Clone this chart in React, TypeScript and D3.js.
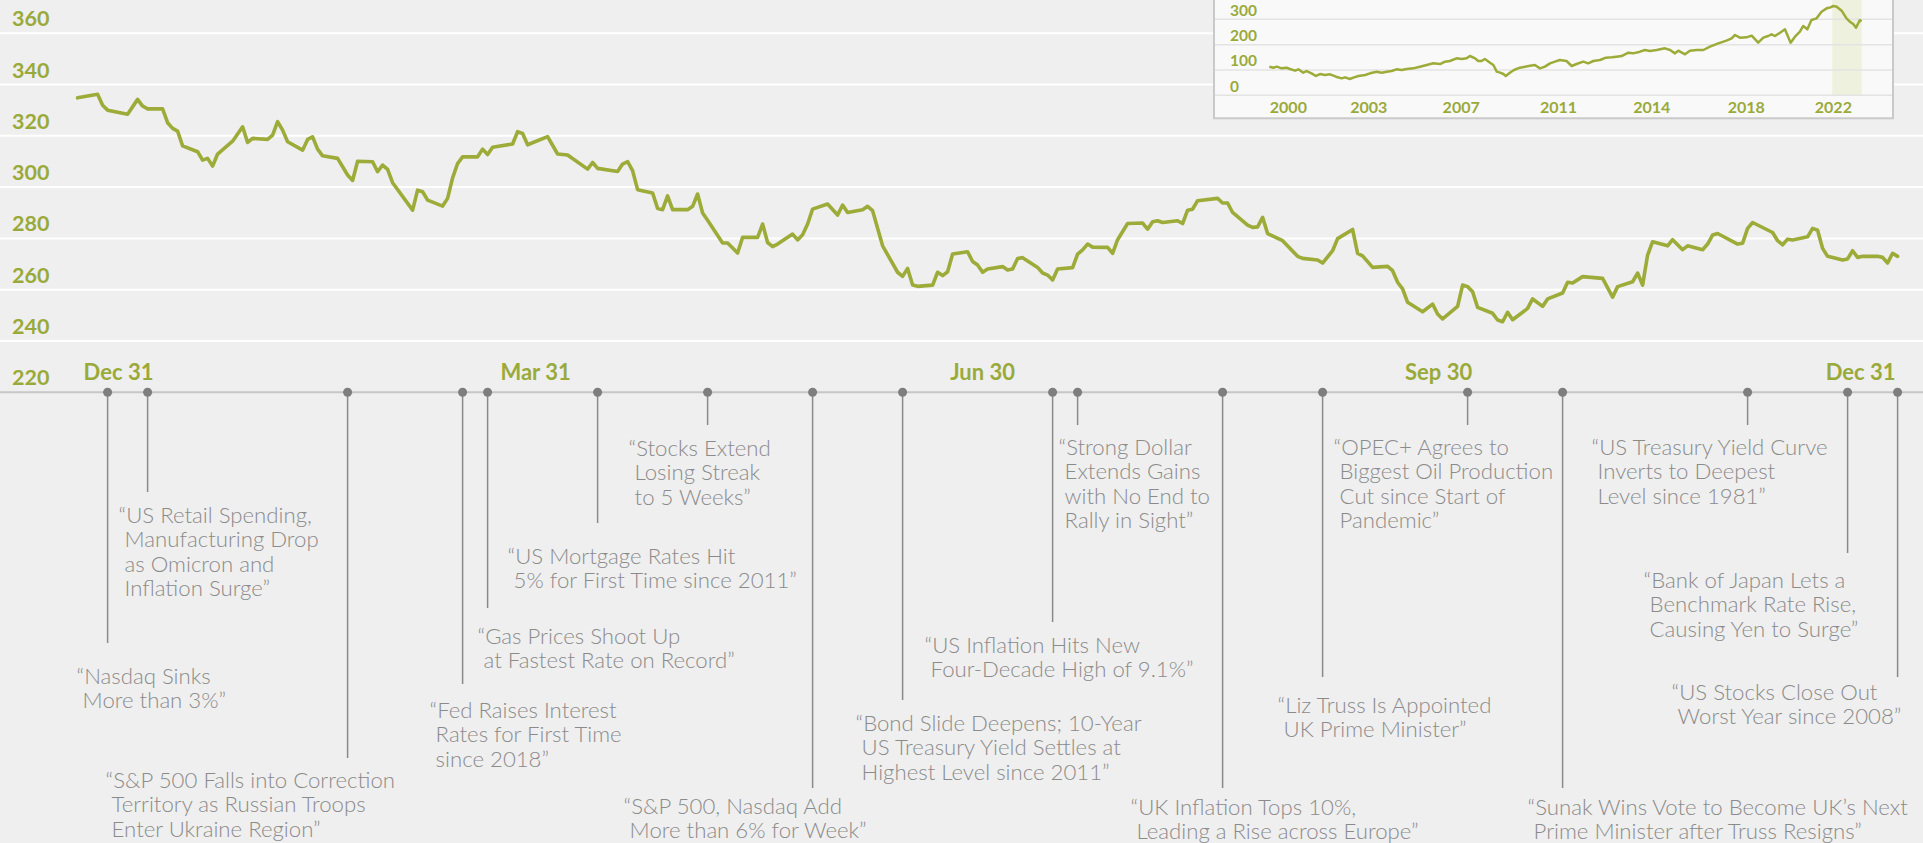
import * as d3 from 'd3';
import { useEffect, useRef } from 'react';

// daily index level, 2022 (turning points)
const dates = [
  '2021-12-31', '2022-01-04', '2022-01-05', '2022-01-06', '2022-01-10', '2022-01-12', '2022-01-13', '2022-01-14',
  '2022-01-17', '2022-01-18', '2022-01-19', '2022-01-20', '2022-01-21', '2022-01-24', '2022-01-25', '2022-01-26',
  '2022-01-27', '2022-01-28', '2022-01-31', '2022-02-02', '2022-02-03', '2022-02-04', '2022-02-07', '2022-02-08',
  '2022-02-09', '2022-02-10', '2022-02-11', '2022-02-14', '2022-02-15', '2022-02-16', '2022-02-17', '2022-02-18',
  '2022-02-21', '2022-02-23', '2022-02-24', '2022-02-25', '2022-02-28', '2022-03-01', '2022-03-02', '2022-03-03',
  '2022-03-04', '2022-03-08', '2022-03-09', '2022-03-10', '2022-03-11', '2022-03-14', '2022-03-15', '2022-03-16',
  '2022-03-17', '2022-03-18', '2022-03-21', '2022-03-22', '2022-03-23', '2022-03-24', '2022-03-28', '2022-03-29',
  '2022-03-30', '2022-03-31', '2022-04-04', '2022-04-06', '2022-04-08', '2022-04-12', '2022-04-13', '2022-04-14',
  '2022-04-18', '2022-04-19', '2022-04-20', '2022-04-21', '2022-04-22', '2022-04-25', '2022-04-26', '2022-04-27',
  '2022-04-28', '2022-04-29', '2022-05-02', '2022-05-03', '2022-05-04', '2022-05-05', '2022-05-06', '2022-05-09',
  '2022-05-10', '2022-05-12', '2022-05-13', '2022-05-16', '2022-05-17', '2022-05-18', '2022-05-19', '2022-05-20',
  '2022-05-23', '2022-05-24', '2022-05-25', '2022-05-26', '2022-05-27', '2022-05-30', '2022-06-01', '2022-06-02',
  '2022-06-03', '2022-06-06', '2022-06-07', '2022-06-08', '2022-06-10', '2022-06-13', '2022-06-14', '2022-06-15',
  '2022-06-16', '2022-06-17', '2022-06-20', '2022-06-21', '2022-06-22', '2022-06-23', '2022-06-24', '2022-06-27',
  '2022-06-28', '2022-06-29', '2022-06-30', '2022-07-01', '2022-07-04', '2022-07-05', '2022-07-06', '2022-07-07',
  '2022-07-08', '2022-07-11', '2022-07-12', '2022-07-13', '2022-07-14', '2022-07-15', '2022-07-18', '2022-07-19',
  '2022-07-20', '2022-07-21', '2022-07-22', '2022-07-25', '2022-07-26', '2022-07-27', '2022-07-29', '2022-08-01',
  '2022-08-02', '2022-08-03', '2022-08-04', '2022-08-05', '2022-08-08', '2022-08-09', '2022-08-10', '2022-08-11',
  '2022-08-12', '2022-08-16', '2022-08-17', '2022-08-18', '2022-08-19', '2022-08-22', '2022-08-23', '2022-08-24',
  '2022-08-25', '2022-08-26', '2022-08-29', '2022-09-01', '2022-09-02', '2022-09-05', '2022-09-06', '2022-09-08',
  '2022-09-09', '2022-09-12', '2022-09-13', '2022-09-14', '2022-09-16', '2022-09-19', '2022-09-20', '2022-09-21',
  '2022-09-22', '2022-09-23', '2022-09-26', '2022-09-28', '2022-09-29', '2022-09-30', '2022-10-03', '2022-10-04',
  '2022-10-05', '2022-10-06', '2022-10-07', '2022-10-10', '2022-10-11', '2022-10-12', '2022-10-13', '2022-10-14',
  '2022-10-17', '2022-10-18', '2022-10-20', '2022-10-21', '2022-10-24', '2022-10-25', '2022-10-26', '2022-10-28',
  '2022-11-01', '2022-11-03', '2022-11-04', '2022-11-07', '2022-11-08', '2022-11-09', '2022-11-10', '2022-11-11',
  '2022-11-14', '2022-11-15', '2022-11-17', '2022-11-18', '2022-11-21', '2022-11-22', '2022-11-23', '2022-11-24',
  '2022-11-28', '2022-11-29', '2022-11-30', '2022-12-01', '2022-12-05', '2022-12-06', '2022-12-07', '2022-12-08',
  '2022-12-09', '2022-12-12', '2022-12-13', '2022-12-14', '2022-12-15', '2022-12-16', '2022-12-19', '2022-12-20',
  '2022-12-21', '2022-12-22', '2022-12-23', '2022-12-26', '2022-12-27', '2022-12-28', '2022-12-29', '2022-12-30',
];
const values = [
  334.8, 336.2, 331.9, 330.0, 328.4, 334.2, 331.6, 330.5,
  330.5, 325.1, 322.9, 321.8, 316.1, 313.8, 310.5, 311.2,
  308.2, 312.9, 317.9, 323.5, 317.4, 319.0, 318.6, 320.3,
  325.5, 322.2, 317.7, 314.4, 318.6, 319.6, 314.8, 312.2,
  311.2, 304.7, 302.6, 310.1, 309.9, 306.0, 308.6, 306.9,
  301.7, 291.0, 298.8, 298.2, 294.9, 292.6, 295.6, 303.6,
  309.2, 311.8, 311.8, 314.8, 312.7, 315.5, 316.8, 321.6,
  320.9, 316.5, 319.7, 312.9, 312.5, 307.0, 309.6, 307.3,
  306.1, 309.0, 309.9, 306.4, 299.0, 297.7, 291.7, 291.2,
  296.6, 291.2, 291.2, 292.5, 297.3, 289.9, 287.1, 278.2,
  278.2, 274.3, 280.4, 280.4, 285.6, 278.4, 276.8, 277.8,
  281.7, 279.4, 281.4, 285.6, 291.4, 293.4, 289.1, 293.0,
  290.1, 291.2, 292.5, 290.8, 277.1, 266.8, 265.2, 268.3,
  261.8, 261.3, 261.8, 266.8, 265.5, 267.0, 273.9, 274.8,
  271.0, 269.6, 266.8, 268.1, 269.0, 267.7, 268.1, 272.2,
  272.5, 268.7, 266.5, 265.7, 263.8, 268.1, 268.6, 273.9,
  275.5, 277.8, 276.6, 276.5, 274.2, 279.5, 285.8, 286.0,
  283.6, 286.5, 286.9, 286.2, 286.9, 285.8, 291.0, 291.4,
  294.7, 295.6, 293.8, 293.8, 290.1, 285.2, 284.3, 284.5,
  288.2, 281.9, 279.1, 273.0, 272.2, 271.6, 270.4, 275.2,
  279.9, 283.5, 274.2, 273.2, 268.7, 269.1, 267.4, 262.9,
  260.3, 255.1, 251.4, 254.4, 250.5, 248.6, 253.5, 261.8,
  261.2, 259.2, 253.1, 250.8, 248.2, 247.5, 251.2, 248.3,
  252.7, 256.4, 253.5, 256.4, 258.7, 262.9, 262.6, 265.1,
  264.4, 257.1, 261.2, 263.1, 266.5, 261.8, 273.5, 278.7,
  277.1, 279.5, 275.6, 277.1, 275.6, 277.8, 281.3, 281.9,
  277.8, 278.1, 283.9, 286.2, 282.3, 279.1, 277.5, 279.7,
  279.4, 280.6, 283.9, 283.2, 276.1, 273.0, 271.6, 272.0,
  275.2, 272.6, 273.0, 273.0, 272.6, 270.4, 274.2, 273.0,
];

const yTicks = [220, 240, 260, 280, 300, 320, 340, 360];
const quarterDates = ['2021-12-31', '2022-03-31', '2022-06-30', '2022-09-30', '2022-12-30'];
const quarterLabels = ['Dec 31', 'Mar 31', 'Jun 30', 'Sep 30', 'Dec 31'];

// headlines along the timeline
const eventDates = [
  '2022-01-06', '2022-01-14', '2022-02-23', '2022-03-18', '2022-03-23', '2022-04-14',
  '2022-05-06', '2022-05-27', '2022-06-14', '2022-07-14', '2022-07-19', '2022-08-17',
  '2022-09-06', '2022-10-05', '2022-10-24', '2022-11-30', '2022-12-20', '2022-12-30',
];
const eventTexts = [
  ['“Nasdaq Sinks', 'More than 3%”'],
  ['“US Retail Spending,', 'Manufacturing Drop', 'as Omicron and', 'Inflation Surge”'],
  ['“S&P 500 Falls into Correction', 'Territory as Russian Troops', 'Enter Ukraine Region”'],
  ['“Fed Raises Interest', 'Rates for First Time', 'since 2018”'],
  ['“Gas Prices Shoot Up', 'at Fastest Rate on Record”'],
  ['“US Mortgage Rates Hit', '5% for First Time since 2011”'],
  ['“Stocks Extend', 'Losing Streak', 'to 5 Weeks”'],
  ['“S&P 500, Nasdaq Add', 'More than 6% for Week”'],
  ['“Bond Slide Deepens; 10-Year', 'US Treasury Yield Settles at', 'Highest Level since 2011”'],
  ['“US Inflation Hits New', 'Four-Decade High of 9.1%”'],
  ['“Strong Dollar', 'Extends Gains', 'with No End to', 'Rally in Sight”'],
  ['“UK Inflation Tops 10%,', 'Leading a Rise across Europe”'],
  ['“Liz Truss Is Appointed', 'UK Prime Minister”'],
  ['“OPEC+ Agrees to', 'Biggest Oil Production', 'Cut since Start of', 'Pandemic”'],
  ['“Sunak Wins Vote to Become UK’s Next', 'Prime Minister after Truss Resigns”'],
  ['“US Treasury Yield Curve', 'Inverts to Deepest', 'Level since 1981”'],
  ['“Bank of Japan Lets a', 'Benchmark Rate Rise,', 'Causing Yen to Surge”'],
  ['“US Stocks Close Out', 'Worst Year since 2008”'],
];

// long-run history for the inset (decimal years)
const insetYears = [
  2000.00, 2000.16, 2000.29, 2000.48, 2000.67, 2000.80, 2001.00, 2001.13, 2001.32, 2001.45,
  2001.64, 2001.81, 2001.97, 2002.16, 2002.36, 2002.59, 2002.81, 2002.94, 2003.13, 2003.26,
  2003.46, 2003.72, 2003.91, 2004.17, 2004.36, 2004.56, 2004.75, 2004.94, 2005.14, 2005.33,
  2005.59, 2005.85, 2006.11, 2006.37, 2006.63, 2006.82, 2007.01, 2007.27, 2007.47, 2007.66,
  2007.79, 2007.99, 2008.11, 2008.24, 2008.37, 2008.57, 2008.70, 2008.83, 2008.96, 2009.09,
  2009.18, 2009.34, 2009.50, 2009.73, 2009.93, 2010.12, 2010.31, 2010.51, 2010.70, 2010.90,
  2011.09, 2011.28, 2011.54, 2011.74, 2011.93, 2012.19, 2012.38, 2012.58, 2012.84, 2013.07,
  2013.29, 2013.48, 2013.68, 2013.94, 2014.13, 2014.39, 2014.58, 2014.78, 2015.04, 2015.36,
  2015.56, 2015.75, 2015.88, 2016.14, 2016.33, 2016.59, 2016.85, 2017.11, 2017.43, 2017.75,
  2017.95, 2018.08, 2018.27, 2018.53, 2018.73, 2018.98, 2019.18, 2019.37, 2019.50, 2019.63,
  2019.83, 2020.02, 2020.24, 2020.41, 2020.60, 2020.73, 2020.89, 2021.05, 2021.25, 2021.44,
  2021.64, 2021.79, 2021.90, 2022.03, 2022.22, 2022.41, 2022.54, 2022.67, 2022.78, 2022.93,
  2022.99,
];
const insetValues = [
  113, 109, 113, 106.4, 109, 103.8, 97.2, 102.5, 89.3, 95.9,
  86.7, 76.2, 84, 80.1, 82.7, 73.5, 66.9, 70.9, 64.3, 69.6,
  76.2, 80.1, 86.7, 93.3, 89.3, 93.3, 95.9, 102.5, 99.8, 103.8,
  106.4, 113, 119.6, 126.2, 123.5, 132.7, 135.4, 145.9, 143.3, 145.9,
  155.1, 145.9, 135.4, 135.4, 143.3, 128.8, 119.6, 93.3, 89.3, 84,
  76.2, 89.3, 99.8, 109, 113, 116.9, 119.6, 106.4, 113, 126.2,
  132.7, 139.3, 135.4, 115.6, 123.5, 132.7, 126.2, 135.4, 139.3, 148.5,
  149.9, 152.5, 155.1, 168.3, 165.6, 172.2, 178.8, 174.9, 178.8, 185.4,
  178.8, 165.6, 176.2, 161.7, 176.2, 178.8, 178.8, 192, 205.1, 215.7,
  224.9, 238, 227.5, 228.8, 235.4, 207.8, 227.5, 234.1, 240.7, 234.1,
  247.2, 260.4, 207.8, 231.4, 251.2, 273.6, 260.4, 297.2, 303.8, 330.1,
  343.3, 347.2, 352.5, 349.9, 334.1, 303.8, 290.7, 281.4, 267, 297.2,
  290.7,
];
const insetYTicks = [0, 100, 200, 300];
const insetYearTicks = [2000.74, 2003.86, 2007.45, 2011.23, 2014.85, 2018.52, 2021.9];
const insetYearLabels = ['2000', '2003', '2007', '2011', '2014', '2018', '2022'];
const insetHighlight = [2021.86, 2023];

// callout layout: stem end, text offset from the dot, first baseline
const callouts = [
  { stem: 643, dx: -25, top: 684 },
  { stem: 492, dx: -23, top: 523 },
  { stem: 758, dx: -236, top: 788 },
  { stem: 684, dx: -27, top: 718 },
  { stem: 608, dx: -4, top: 644 },
  { stem: 523, dx: -84, top: 564 },
  { stem: 425, dx: -73, top: 456 },
  { stem: 788, dx: -183, top: 814 },
  { stem: 700, dx: -41, top: 731 },
  { stem: 622, dx: -122, top: 653 },
  { stem: 425, dx: -13, top: 455 },
  { stem: 788, dx: -86, top: 815 },
  { stem: 677, dx: -39, top: 713 },
  { stem: 425, dx: -128, top: 455 },
  { stem: 788, dx: -29, top: 815 },
  { stem: 425, dx: -150, top: 455 },
  { stem: 553, dx: -198, top: 588 },
  { stem: 677, dx: -220, top: 700 },
];
const quarterShift = [6, 8, 0, -4, -2];

const OLIVE = '#9aaa3a';
const GREY_TEXT = '#8b8b8b';

const drawChart = (container: HTMLElement) => {
  const width = 1923;
  const height = 843;
  const axisY = 392.3;
  const parse = d3.timeParse('%Y-%m-%d');
  const X = dates.map(d => parse(d) as Date);

  const x = d3.scaleTime().domain([X[0], X[X.length - 1]]).range([77.6, 1897.6]);
  const y = d3.scaleLinear().domain([220, 360]).range([axisY, 33.2]);

  const svg = d3.select(container).append('svg')
    .attr('width', width)
    .attr('height', height)
    .attr('viewBox', `0 0 ${width} ${height}`)
    .style('position', 'absolute')
    .style('left', '0px')
    .style('top', '0px');

  svg.append('rect').attr('width', width).attr('height', height).attr('fill', '#efefef');

  // gridlines
  svg.append('g').selectAll('line')
    .data(yTicks.filter(t => t > 220))
    .join('line')
    .attr('x1', 0).attr('x2', width)
    .attr('y1', d => y(d)).attr('y2', d => y(d))
    .attr('stroke', '#ffffff').attr('stroke-width', 2);

  svg.append('g').selectAll('text')
    .data(yTicks)
    .join('text')
    .attr('x', 12)
    .attr('y', d => y(d) - 7)
    .attr('fill', OLIVE)
    .attr('font-family', 'Lato, sans-serif')
    .attr('font-weight', 700)
    .attr('font-size', 21.5)
    .text(d => d);

  // main series
  const line = d3.line<number>()
    .x(i => x(X[i]))
    .y(i => y(values[i]));

  svg.append('path')
    .attr('fill', 'none')
    .attr('stroke', '#9dab38')
    .attr('stroke-width', 3.6)
    .attr('stroke-linejoin', 'round')
    .attr('stroke-linecap', 'round')
    .attr('d', line(d3.range(values.length)));

  // timeline axis
  svg.append('line')
    .attr('x1', 0).attr('x2', width)
    .attr('y1', axisY).attr('y2', axisY)
    .attr('stroke', '#c6c6c6').attr('stroke-width', 2);

  const Q = quarterDates.map(d => parse(d) as Date);
  svg.append('g').selectAll('text')
    .data(quarterLabels)
    .join('text')
    .attr('x', (d, i) => x(Q[i]) + quarterShift[i])
    .attr('y', 380)
    .attr('text-anchor', (d, i) => (i === 0 ? 'start' : i === quarterLabels.length - 1 ? 'end' : 'middle'))
    .attr('fill', OLIVE)
    .attr('font-family', 'Lato, sans-serif')
    .attr('font-weight', 700)
    .attr('font-size', 22)
    .text(d => d);

  // callouts
  const E = eventDates.map(d => parse(d) as Date);
  const ev = svg.append('g');
  ev.selectAll('line')
    .data(callouts)
    .join('line')
    .attr('x1', (d, i) => x(E[i])).attr('x2', (d, i) => x(E[i]))
    .attr('y1', axisY).attr('y2', d => d.stem)
    .attr('stroke', '#8a8a8a').attr('stroke-width', 1.5);

  ev.selectAll('circle')
    .data(E)
    .join('circle')
    .attr('cx', d => x(d))
    .attr('cy', axisY)
    .attr('r', 4.5)
    .attr('fill', '#7e7e80');

  const labels = ev.selectAll('text.callout')
    .data(eventTexts)
    .join('text')
    .attr('class', 'callout')
    .attr('fill', GREY_TEXT)
    .attr('font-family', 'Lato, sans-serif')
    .attr('font-weight', 300)
    .attr('font-size', 22.2);

  labels.each(function (lines, i) {
    const tx = x(E[i]) + callouts[i].dx;
    d3.select(this).selectAll('tspan')
      .data(lines)
      .join('tspan')
      .attr('x', (d, k) => (k === 0 ? tx - 6 : tx))
      .attr('y', (d, k) => callouts[i].top + k * 24.4)
      .text(d => d);
  });

  // inset: long-run history
  const ix = d3.scaleLinear().domain([2000, 2023]).range([1269.3, 1861.7]);
  const iy = d3.scaleLinear().domain([0, 300]).range([95.3, 19.3]);
  const inset = svg.append('g');

  inset.append('rect')
    .attr('x', 1214).attr('y', -6)
    .attr('width', 679).attr('height', 124.3)
    .attr('fill', '#f9f9f9')
    .attr('stroke', '#c9c9c9').attr('stroke-width', 2);

  inset.append('rect')
    .attr('x', ix(insetHighlight[0]))
    .attr('y', 0)
    .attr('width', ix(insetHighlight[1]) - ix(insetHighlight[0]))
    .attr('height', iy(0))
    .attr('fill', '#eef1dd');

  inset.append('g').selectAll('line')
    .data(insetYTicks)
    .join('line')
    .attr('x1', 1215).attr('x2', 1892)
    .attr('y1', d => iy(d)).attr('y2', d => iy(d))
    .attr('stroke', '#e3e3e3').attr('stroke-width', 1.5);

  inset.append('g').selectAll('text')
    .data(insetYTicks)
    .join('text')
    .attr('x', 1230)
    .attr('y', d => iy(d) - 3.5)
    .attr('fill', OLIVE)
    .attr('font-family', 'Lato, sans-serif')
    .attr('font-weight', 700)
    .attr('font-size', 15.5)
    .text(d => d);

  inset.append('g').selectAll('text')
    .data(insetYearLabels)
    .join('text')
    .attr('x', (d, i) => ix(insetYearTicks[i]))
    .attr('y', 113.3)
    .attr('text-anchor', 'middle')
    .attr('fill', OLIVE)
    .attr('font-family', 'Lato, sans-serif')
    .attr('font-weight', 700)
    .attr('font-size', 16)
    .text(d => d);

  const insetLine = d3.line<number>()
    .x(i => ix(insetYears[i]))
    .y(i => iy(insetValues[i]));

  inset.append('path')
    .attr('fill', 'none')
    .attr('stroke', '#9dab38')
    .attr('stroke-width', 2.5)
    .attr('stroke-linejoin', 'round')
    .attr('d', insetLine(d3.range(insetValues.length)));

  return svg.node();
};

export default function App() {
  const domRef = useRef<HTMLDivElement>(null);
  useEffect(() => {
    if (domRef.current) {
      drawChart(domRef.current);
    }
    return () => {
      d3.select(domRef.current).selectAll('svg').remove();
    };
  }, [domRef]);
  return <div ref={domRef}></div>;
}
